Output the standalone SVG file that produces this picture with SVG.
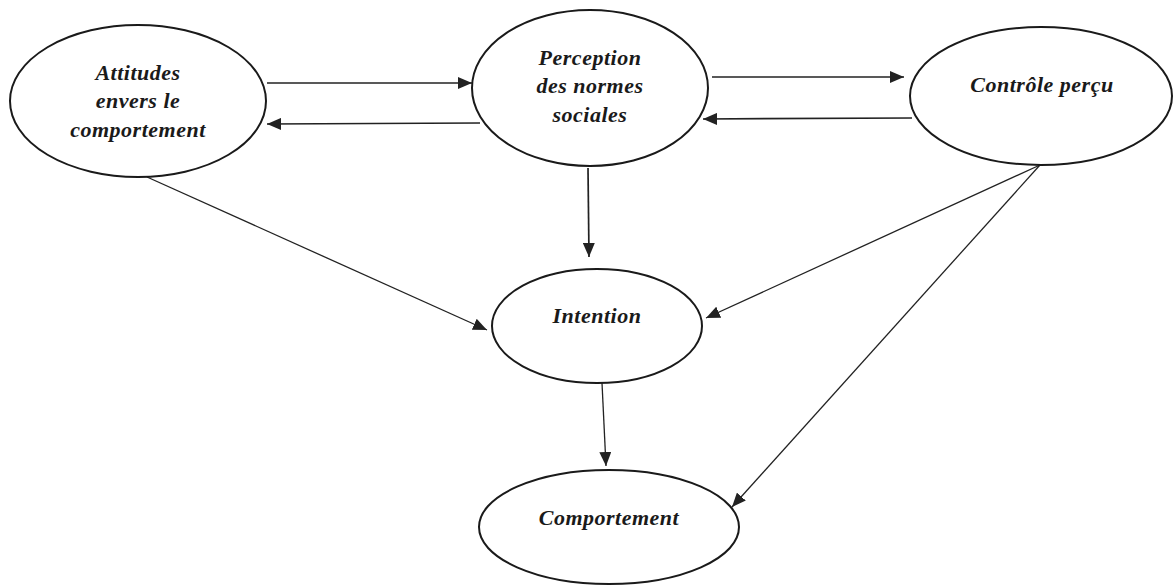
<svg xmlns="http://www.w3.org/2000/svg" width="1175" height="586" viewBox="0 0 1175 586">
<style>
.node{fill:#fff;stroke:#1a1a1a;stroke-width:2}
.lbl{font-family:"Liberation Serif","Times New Roman",serif;font-weight:bold;font-style:italic;font-size:22px;letter-spacing:0.5px;fill:#1a1a1a;text-anchor:middle}
.edge{stroke:#222;stroke-width:1.3;fill:none;marker-end:url(#ah)}
.h{stroke-width:1.7}
</style>
<defs>
<marker id="ah" viewBox="0 0 14 12" refX="14" refY="6" markerWidth="14" markerHeight="12" markerUnits="userSpaceOnUse" orient="auto">
<path d="M0,0 L14,6 L0,12 Z" fill="#222"/>
</marker>
</defs>
<rect width="1175" height="586" fill="#fff"/>
<g id="edges">
<line class="edge h" x1="267" y1="83" x2="472" y2="83"/>
<line class="edge h" x1="480" y1="123" x2="267" y2="124"/>
<line class="edge h" x1="712" y1="77" x2="904" y2="77"/>
<line class="edge h" x1="912" y1="118" x2="703" y2="119"/>
<line class="edge h" x1="588" y1="168" x2="589" y2="257"/>
<line class="edge" x1="147" y1="177" x2="487" y2="330"/>
<line class="edge" x1="1040" y1="165" x2="706" y2="318"/>
<line class="edge" x1="1040" y1="165" x2="732" y2="507"/>
<line class="edge" x1="602" y1="383" x2="606" y2="466"/>
</g>
<g id="attitudes">
<ellipse class="node" cx="138" cy="101" rx="128" ry="76"/>
<text class="lbl" x="138" y="80">Attitudes</text>
<text class="lbl" x="138" y="108">envers le</text>
<text class="lbl" x="138" y="137">comportement</text>
</g>
<g id="perception">
<ellipse class="node" cx="590" cy="88" rx="118" ry="78"/>
<text class="lbl" x="590" y="65">Perception</text>
<text class="lbl" x="590" y="93">des normes</text>
<text class="lbl" x="590" y="122">sociales</text>
</g>
<g id="controle">
<ellipse class="node" cx="1041" cy="96" rx="131" ry="69"/>
<text class="lbl" x="1042" y="92">Contrôle perçu</text>
</g>
<g id="intention">
<ellipse class="node" cx="597" cy="326" rx="105" ry="57"/>
<text class="lbl" x="597" y="323">Intention</text>
</g>
<g id="comportement">
<ellipse class="node" cx="609" cy="527" rx="130" ry="57"/>
<text class="lbl" x="609" y="525">Comportement</text>
</g>
</svg>
